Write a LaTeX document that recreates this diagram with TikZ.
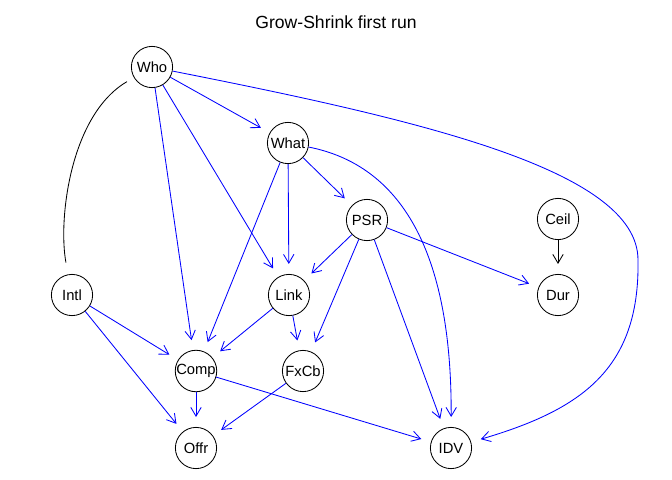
\documentclass[tikz,border=0pt]{standalone}
\usepackage{fontspec}
\setmainfont{Liberation Sans}
\usetikzlibrary{arrows.meta}
\definecolor{ArcClr}{rgb}{0,0,1}

\begin{document}
\begin{tikzpicture}[x=0.025cm,y=-0.025cm,
  var/.style={circle,draw=black,line width=0.6pt,minimum size=1.03cm,inner sep=0pt,font=\fontsize{10.5}{12}\selectfont},
  arc/.style={draw=ArcClr,line width=0.6pt,-{Straight Barb[length=2.2mm,width=2.6mm]},shorten >=0.25cm},
  undir/.style={draw=black,line width=0.6pt,shorten <=0.2cm,shorten >=0.3cm}]
\useasboundingbox (0,0) rectangle (672,480);

\node (title) at (336,22) {\fontsize{12.5}{14}\selectfont Grow-Shrink first run};

\node[var] (Who)  at (152,67)  {Who};
\node[var] (What) at (288,143) {What};
\node[var] (PSR)  at (367,220) {PSR};
\node[var] (Ceil) at (558,219) {Ceil};
\node[var] (Intl) at (72,295)  {Intl};
\node[var] (Link) at (289,295) {Link};
\node[var] (Dur)  at (558,295) {Dur};
\node[var] (Comp) at (196,371) {Comp};
\node[var] (FxCb) at (303,371) {FxCb};
\node[var] (Offr) at (196,448) {Offr};
\node[var] (IDV)  at (451,448) {IDV};

\draw[undir] (Who) .. controls (70,115) and (58,220) .. (Intl);

\draw[arc] (Who) -- (What);
\draw[arc] (Who) -- (Comp);
\draw[arc] (Who) -- (Link);
\draw[arc] (Who) .. controls (420,120) and (638,170) .. (638,260)
  .. controls (640,370) and (580,410) .. (IDV);
\draw[arc] (What) -- (Link);
\draw[arc] (What) -- (Comp);
\draw[arc] (What) -- (PSR);
\draw[arc] (What) .. controls (400,165) and (452,250) .. (IDV);
\draw[arc] (PSR) -- (Link);
\draw[arc] (PSR) -- (FxCb);
\draw[arc] (PSR) -- (IDV);
\draw[arc] (PSR) -- (Dur);
\draw[arc,draw=black] (Ceil) -- (Dur);
\draw[arc] (Intl) -- (Comp);
\draw[arc] (Intl) -- (Offr);
\draw[arc] (Link) -- (Comp);
\draw[arc] (Link) -- (FxCb);
\draw[arc] (Comp) -- (Offr);
\draw[arc] (Comp) -- (IDV);
\draw[arc] (FxCb) -- (Offr);

\end{tikzpicture}
\end{document}
